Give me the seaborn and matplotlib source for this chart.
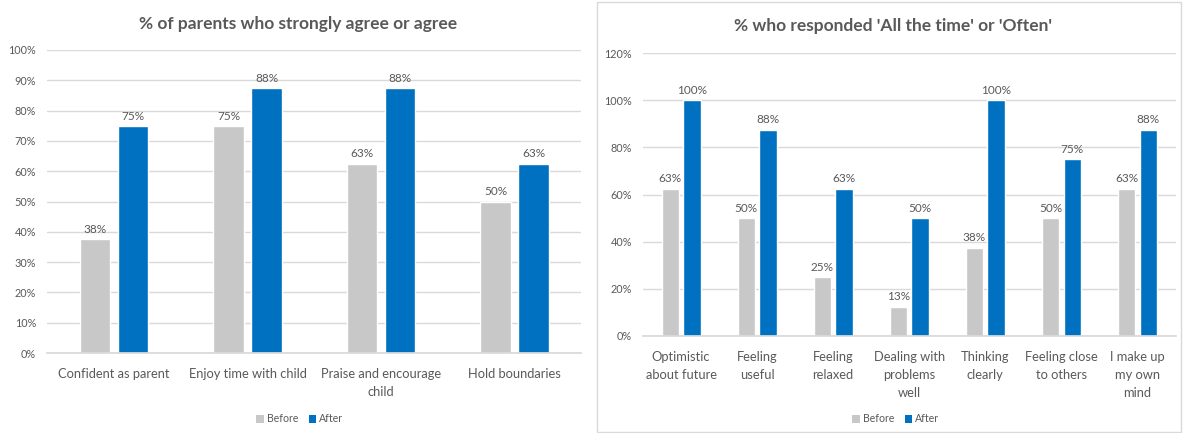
import math
import numpy as np
import pandas as pd
import matplotlib
matplotlib.use("Agg")
import matplotlib.pyplot as plt
from matplotlib.patches import Rectangle, Patch
import seaborn as sns

# ---- data ----
left_title = "% of parents who strongly agree or agree"
left_categories = ["Confident as parent", "Enjoy time with child",
                   "Praise and encourage\nchild", "Hold boundaries"]
left_before = [37.5, 75.0, 62.5, 50.0]
left_after = [75.0, 87.5, 87.5, 62.5]

right_title = "% who responded 'All the time' or 'Often'"
right_categories = ["Optimistic\nabout future", "Feeling\nuseful", "Feeling\nrelaxed",
                    "Dealing with\nproblems\nwell", "Thinking\nclearly",
                    "Feeling close\nto others", "I make up\nmy own\nmind"]
right_before = [62.5, 50.0, 25.0, 12.5, 37.5, 50.0, 62.5]
right_after = [100.0, 87.5, 62.5, 50.0, 100.0, 75.0, 87.5]

series_names = ["Before", "After"]
colors = {"Before": "#C8C8C8", "After": "#0070C0"}

TEXT = "#595959"
GRID = "#D9D9D9"

sns.set_theme(style="white")
plt.rcParams["font.family"] = ["Lato", "DejaVu Sans"]

fig = plt.figure(figsize=(11.83, 4.33), dpi=100)


def make_df(cats, before, after):
    return pd.DataFrame({
        "category": cats * 2,
        "value": before + after,
        "series": ["Before"] * len(cats) + ["After"] * len(cats),
    })


def draw(ax, cats, before, after, ymax, ystep):
    df = make_df(cats, before, after)
    sns.barplot(data=df, x="category", y="value", hue="series",
                hue_order=series_names, palette=colors, width=0.57, gap=0.2,
                ax=ax, legend=False, saturation=1, order=cats)
    ax.set_ylim(0, ymax)
    ax.set_xlim(-0.5, len(cats) - 0.5)
    ticks = np.arange(0, ymax + 0.1, ystep)
    ax.set_yticks(ticks)
    ax.set_yticklabels([f"{int(t)}%" for t in ticks])
    ax.yaxis.grid(True, color=GRID, linewidth=1)
    ax.set_axisbelow(True)
    for s in ["top", "right", "left"]:
        ax.spines[s].set_visible(False)
    ax.spines["bottom"].set_color(GRID)
    ax.tick_params(axis="both", length=0, colors=TEXT)
    ax.tick_params(axis="y", labelsize=7.8, pad=8)
    ax.tick_params(axis="x", labelsize=9.3, pad=11)
    for lab in ax.get_xticklabels():
        lab.set_linespacing(1.6)
    ax.set_xlabel("")
    ax.set_ylabel("")
    for cont in ax.containers:
        vals = cont.datavalues
        ax.bar_label(cont, labels=[f"{math.floor(v + 0.5)}%" for v in vals],
                     padding=3, fontsize=8.5, color=TEXT)


ax1 = fig.add_axes([47.25 / 1183, 1 - 353 / 433, 534 / 1183, 303 / 433])
draw(ax1, left_categories, left_before, left_after, 100, 10)

ax2 = fig.add_axes([643 / 1183, 1 - 336 / 433, 532.5 / 1183, 283 / 433])
draw(ax2, right_categories, right_before, right_after, 120, 20)

fig.text(298 / 1183, 1 - 24 / 433, left_title, ha="center", va="center",
         fontsize=12.5, fontweight="bold", color=TEXT)
fig.text(893 / 1183, 1 - 26 / 433, right_title, ha="center", va="center",
         fontsize=12.5, fontweight="bold", color=TEXT)

handles = [Patch(facecolor=colors[n], edgecolor="none", label=n) for n in series_names]
for cx in (300 / 1183, 896 / 1183):
    fig.legend(handles=handles, loc="center", bbox_to_anchor=(cx, 1 - 419 / 433),
               ncol=2, frameon=False, fontsize=7.6, labelcolor=TEXT,
               handlelength=0.7, handleheight=0.7, handletextpad=0.3,
               columnspacing=1.0)

# border around right chart
fig.add_artist(Rectangle((597 / 1183, 1 / 433), 584 / 1183, 430 / 433,
                         transform=fig.transFigure, fill=False,
                         edgecolor=GRID, linewidth=1))

fig.savefig("out.png", dpi=100, facecolor="white")
